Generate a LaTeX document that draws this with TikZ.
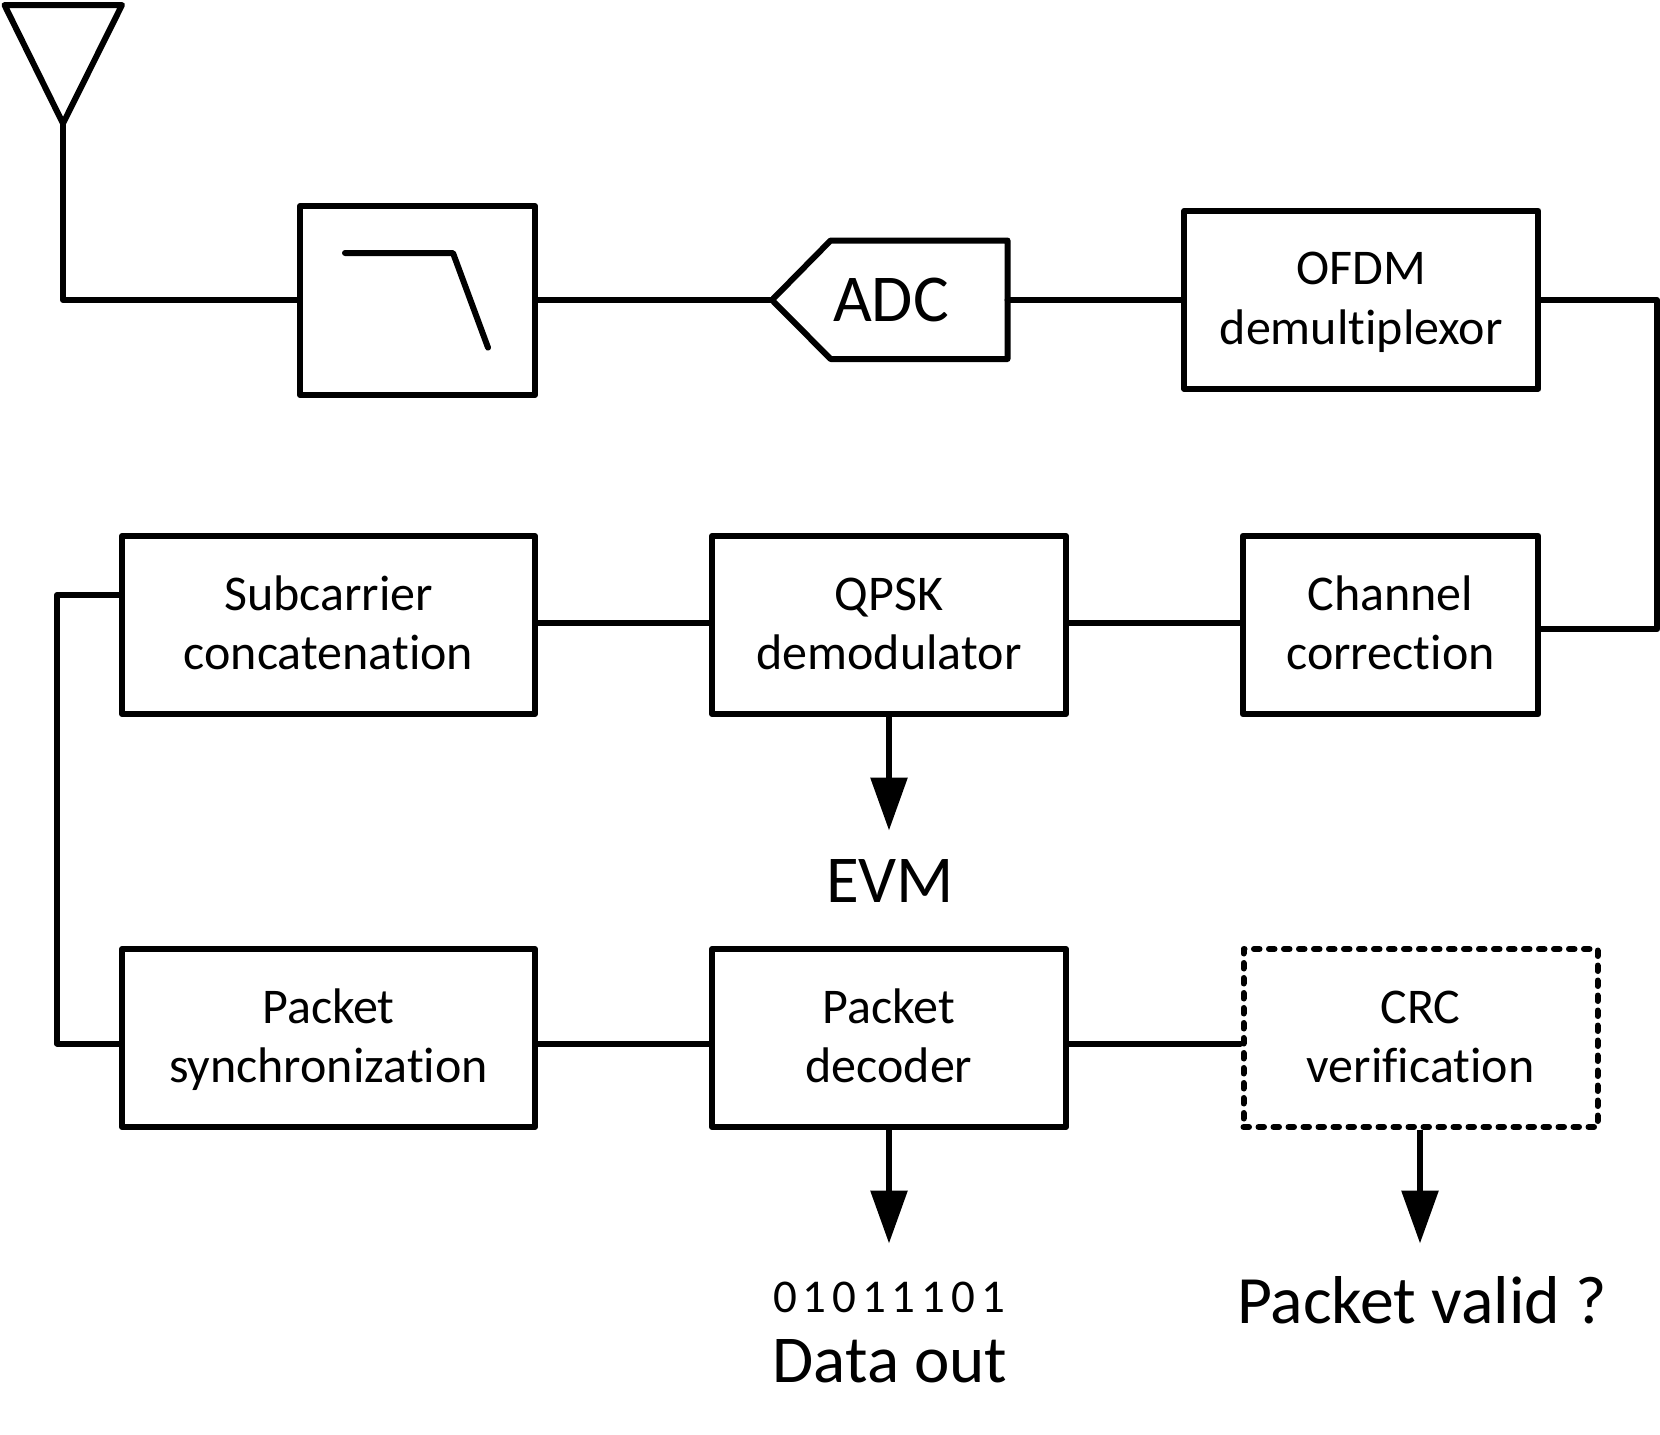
\documentclass[tikz,border=0pt]{standalone}
\usepackage{fontspec}
\setmainfont{Carlito}[RawFeature={-liga;-clig}]
\newfontfamily\bitsfont{Carlito}[LetterSpace=12.5]
\usetikzlibrary{arrows.meta}
\newcommand{\lsp}{\rule[-15pt]{0pt}{59.6pt}}
\newcommand{\twolines}[2]{\lsp #1\\\lsp #2}
\tikzset{
  x=1pt,y=-1pt,
  wire/.style={line width=6pt,line join=round,line cap=round},
  block/.style={draw,line width=6pt,line join=round,rectangle,align=center,inner sep=0pt,
    font=\fontsize{50}{59.6}\selectfont},
  dashblock/.style={block,line cap=round,dash pattern=on 5.5pt off 9.5pt},
  outarrow/.style={line width=6pt,-{Triangle[length=53pt,width=36pt]}},
  biglabel/.style={anchor=base,inner sep=0pt,font=\fontsize{67}{80}\selectfont},
  validlabel/.style={anchor=base,inner sep=0pt,font=\fontsize{67.7}{80}\selectfont},
  bitslabel/.style={anchor=base,inner sep=0pt,font=\fontsize{47}{56}\bitsfont},
}
\begin{document}
\begin{tikzpicture}
\useasboundingbox (0,0) rectangle (1660,1435);
% antenna
\coordinate (anta) at (4.5,5);
\coordinate (antb) at (122,5);
\coordinate (apex) at (63,123.5);
\coordinate (antfoot) at (63,300);
\draw[wire] (anta) -- (antb) -- (apex) -- cycle;
% first row
\node[block,minimum width=235pt,minimum height=189pt] (lpf) at (417.5,300.5) {};
\coordinate (lpfa) at (345,253);
\coordinate (lpfb) at (453,253);
\coordinate (lpfc) at (488,347.6);
\draw[wire] (lpfa) -- (lpfb) -- (lpfc);
\coordinate (adctip) at (772,300);
\coordinate (adcnw) at (830.6,240.5);
\coordinate (adcne) at (1007.5,240.5);
\coordinate (adcse) at (1007.5,359);
\coordinate (adcsw) at (830.6,359);
\coordinate (adcout) at (1007.5,300);
\draw[wire] (adctip) -- (adcnw) -- (adcne) -- (adcse) -- (adcsw) -- cycle;
\node[biglabel] (adc) at (891,321) {ADC};
\node[block,minimum width=354pt,minimum height=178pt] (ofdm) at (1361.3,299.8) {\twolines{OFDM}{demultiplexor}};
% second row
\node[block,minimum width=295.6pt,minimum height=178pt] (chan) at (1390.5,625) {\twolines{Channel}{correction}};
\node[block,minimum width=354pt,minimum height=178pt] (qpsk) at (889,625) {\twolines{QPSK}{demodulator}};
\node[block,minimum width=413pt,minimum height=178pt] (subc) at (328.5,625) {\twolines{Subcarrier}{concatenation}};
% third row
\node[block,minimum width=413pt,minimum height=178pt] (sync) at (328.5,1038) {\twolines{Packet}{synchronization}};
\node[block,minimum width=354pt,minimum height=178pt] (dec) at (889,1038) {\twolines{Packet}{decoder}};
\node[dashblock,minimum width=354pt,minimum height=178pt] (crc) at (1420.5,1038) {\twolines{CRC}{verification}};
% labels
\node[biglabel] (evm) at (890,902.5) {EVM};
\node[bitslabel] (bits) at (889,1312.7) {01011101};
\node[biglabel] (data) at (890,1382.5) {Data out};
\node[validlabel] (valid) at (1422,1323) {Packet valid ?};
% connectors
\coordinate (r1) at (1657,300);
\coordinate (r2) at (1657,629.3);
\coordinate (l1) at (57,595);
\coordinate (l2) at (57,1043.5);
\coordinate (evmtip) at (889,830.5);
\coordinate (datatip) at (889,1243.5);
\coordinate (validtip) at (1420,1243.5);
\draw[wire] (apex) -- (antfoot) -- (lpf.west |- antfoot);
\draw[wire] (lpf.east |- antfoot) -- (adctip);
\draw[wire] (adcout) -- (ofdm.west |- adcout);
\draw[wire] (ofdm.east |- r1) -- (r1) -- (r2) -- (chan.east |- r2);
\draw[wire] (chan.west |- 0,623) -- (qpsk.east |- 0,623);
\draw[wire] (qpsk.west |- 0,623) -- (subc.east |- 0,623);
\draw[wire] (subc.west |- l1) -- (l1) -- (l2) -- (sync.west |- l2);
\draw[wire] (sync.east |- l2) -- (dec.west |- l2);
\draw[wire] (dec.east |- l2) -- (crc.west |- l2);
\draw[outarrow] (qpsk.south) -- (evmtip);
\draw[outarrow] (dec.south) -- (datatip);
\draw[outarrow] (crc.south -| validtip) -- (validtip);
\end{tikzpicture}
\end{document}
